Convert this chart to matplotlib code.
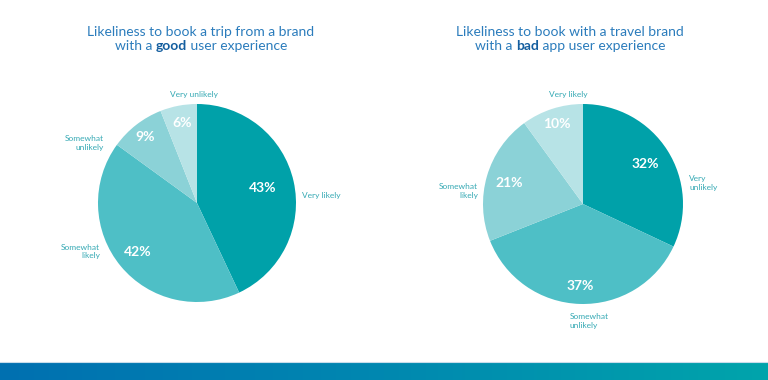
import numpy as np
import matplotlib
matplotlib.use("Agg")
from matplotlib import pyplot as plt
from matplotlib.colors import LinearSegmentedColormap
from matplotlib.font_manager import FontProperties

plt.rcParams['font.family'] = ['Lato', 'DejaVu Sans']

good_labels = ['Very likely', 'Somewhat\nlikely', 'Somewhat\nunlikely', 'Very unlikely']
good_values = [43, 42, 9, 6]
bad_labels = ['Very\nunlikely', 'Somewhat\nunlikely', 'Somewhat\nlikely', 'Very likely']
bad_values = [32, 37, 21, 10]

colors = ['#00A1A9', '#4EBFC6', '#8BD2D7', '#B7E3E6']
label_col = '#35A9B4'
title_col = '#2B7CBC'
bold_col = '#145E9F'

fig = plt.figure(figsize=(7.68, 3.80), dpi=100)
W, H = 768, 380
renderer = fig.canvas.get_renderer()


def pie_axes(cx, cy, r):
    return fig.add_axes([(cx - r) / W, 1 - (cy + r) / H, 2 * r / W, 2 * r / H])


def draw_pie(ax, values, labels, pct_r, lab_pos, lab_ha):
    wedges, _ = ax.pie(values, colors=colors, startangle=90, counterclock=False,
                       radius=1, wedgeprops=dict(linewidth=0))
    for w, v, r in zip(wedges, values, pct_r):
        ang = np.deg2rad((w.theta1 + w.theta2) / 2)
        ax.text(r * np.cos(ang), r * np.sin(ang), f'{v}%', color='white',
                fontsize=10, fontweight='bold', ha='center', va='center')
    for lab, (x, y), ha in zip(labels, lab_pos, lab_ha):
        ax.text(x, y, lab, color=label_col, fontsize=6, ha=ha, va='center',
                linespacing=1.3)
    ax.set_xlim(-1, 1)
    ax.set_ylim(-1, 1)
    ax.axis('off')


ax1 = pie_axes(197, 203, 99)
draw_pie(ax1, good_values, good_labels, [0.68, 0.78, 0.85, 0.82],
         [(1.06, 0.08), (-0.98, -0.49), (-0.94, 0.61), (-0.03, 1.10)],
         ['left', 'right', 'right', 'center'])

ax2 = pie_axes(583, 204, 100)
draw_pie(ax2, bad_values, bad_labels, [0.74, 0.82, 0.77, 0.84],
         [(1.06, 0.21), (-0.13, -1.17), (-1.05, 0.13), (-0.15, 1.09)],
         ['left', 'left', 'right', 'center'])


def text_w(s, prop):
    # advance width in pixels, trailing spaces included
    w1 = renderer.get_text_width_height_descent(s + '|', prop, ismath=False)[0]
    w2 = renderer.get_text_width_height_descent('|', prop, ismath=False)[0]
    return w1 - w2


def title(x, y1, y2, line1, pre, bold, post):
    fs = 10
    fig.text(x / W, 1 - y1 / H, line1, color=title_col, fontsize=fs,
             ha='center', va='center')
    reg = FontProperties(family=['Lato'], size=fs)
    bld = FontProperties(family=['Lato'], size=fs, weight='bold')
    pieces = [(pre, reg, title_col), (bold, bld, bold_col), (post, reg, title_col)]
    widths = [text_w(s, p) for s, p, _ in pieces]
    x0 = x - sum(widths) / 2
    for (s, p, c), w in zip(pieces, widths):
        fig.text(x0 / W, 1 - y2 / H, s, fontproperties=p, color=c,
                 ha='left', va='center')
        x0 += w


title(201, 32, 46, 'Likeliness to book a trip from a brand', 'with a ', 'good', ' user experience')
title(570, 32, 46, 'Likeliness to book with a travel brand', 'with a ', 'bad', ' app user experience')

# gradient band at the bottom
band = fig.add_axes([0, 0, 1, 17 / H])
cmap = LinearSegmentedColormap.from_list('band', ['#0070B0', '#0088B0', '#00A4AB'])
band.imshow(np.linspace(0, 1, 256)[None, :], aspect='auto', cmap=cmap, extent=[0, 1, 0, 1])
band.axis('off')
fig.add_artist(plt.Line2D([0, 1], [18 / H, 18 / H], color='#C9DDEB', lw=0.8))

fig.savefig('out.png', dpi=100, facecolor='white')
